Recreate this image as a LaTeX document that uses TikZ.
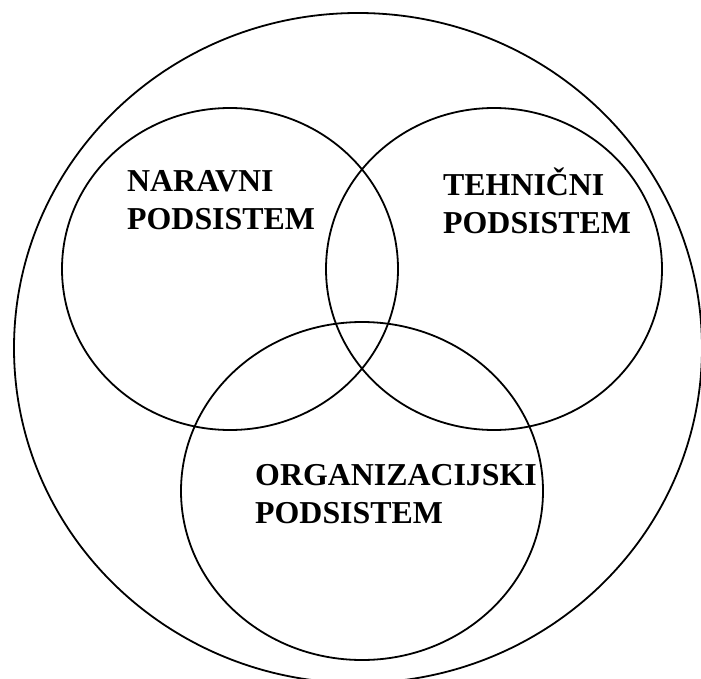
\documentclass[tikz,border=0pt]{standalone}
\usepackage{fontspec}
\setmainfont{Liberation Serif}
\usetikzlibrary{shapes.geometric}
\begin{document}
\begin{tikzpicture}[x=1bp,y=-1bp,
  ring/.style={draw, ellipse, line width=1.8bp, inner sep=0pt},
  label/.style={anchor=base west, align=left, inner sep=0pt,
    font=\bfseries\fontsize{32}{38}\selectfont}]
  \useasboundingbox (0,0) rectangle (701,679);
  \clip (0,0) rectangle (701,679);
  % outer system boundary
  \node[ring, minimum width=688bp, minimum height=670bp] (sys) at (358,348) {};
  % the three subsystems
  \node[ring, minimum width=336bp, minimum height=322bp] (nar) at (230,269) {};
  \node[ring, minimum width=336bp, minimum height=322bp] (teh) at (494,269) {};
  \node[ring, minimum width=362bp, minimum height=338bp] (org) at (362,491) {};
  % labels (anchored at the baseline of the second line)
  \node[label] (narl) at (127,229) {NARAVNI\\PODSISTEM};
  \node[label] (tehl) at (443,233) {TEHNIČNI\\PODSISTEM};
  \node[label] (orgl) at (255,523) {ORGANIZACIJSKI\\PODSISTEM};
\end{tikzpicture}
\end{document}
